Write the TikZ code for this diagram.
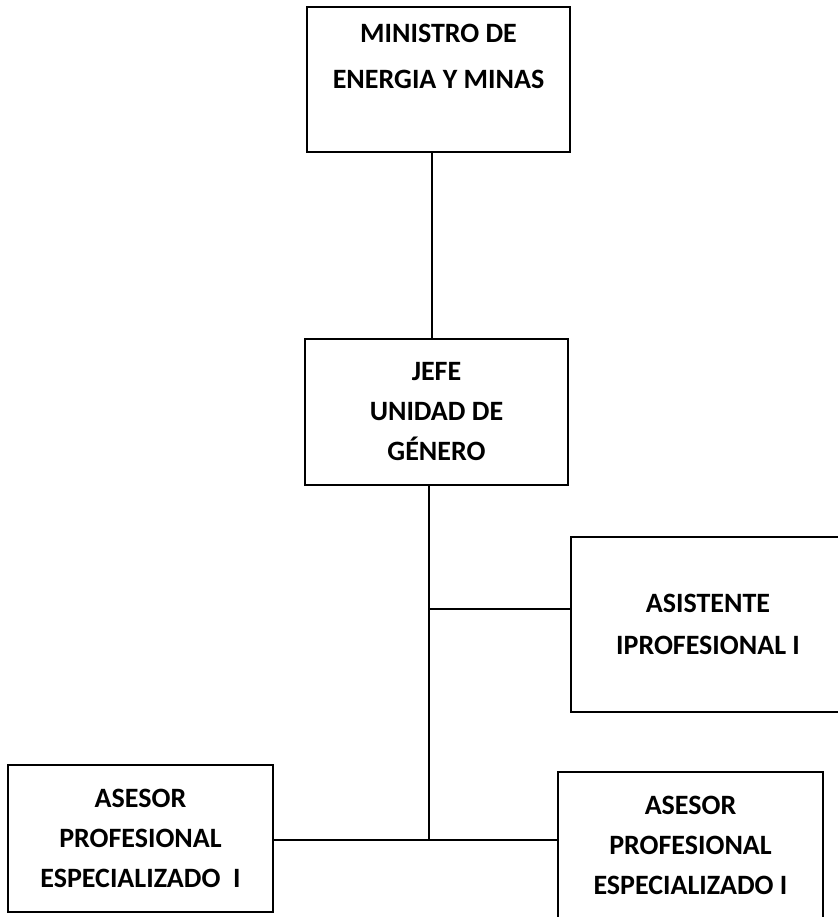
\documentclass[tikz,border=0pt]{standalone}
\usepackage{fontspec}
\setmainfont{Carlito}

\begin{document}
\begin{tikzpicture}[x=1pt,y=1pt]
\tikzset{unitbox/.style={draw=black,line width=1.4pt,inner sep=0pt,align=center,
  font=\fontsize{28}{40}\selectfont\bfseries}}
\path[use as bounding box,fill=white] (0,0) rectangle (837,917);

\node[unitbox,minimum width=263pt,minimum height=145pt] (mini) at (438.5,837.5) {MINISTRO DE\\[6pt]ENERGIA Y MINAS\\[6pt]\mbox{}};

\node[unitbox,minimum width=263pt,minimum height=146pt] (jefe) at (436.5,505) {JEFE\\UNIDAD DE\\G\'ENERO};

\node[unitbox,minimum width=274pt,minimum height=175pt] (asist) at (708,292.5) {ASISTENTE\\[2pt]IPROFESIONAL I};

\node[unitbox,minimum width=265pt,minimum height=147pt] (asesorA) at (140.5,78.5) {ASESOR\\PROFESIONAL\\ESPECIALIZADO \ I};

\node[unitbox,minimum width=265pt,minimum height=146pt] (asesorB) at (690.5,72) {ASESOR\\PROFESIONAL\\ESPECIALIZADO I};

\coordinate (link) at (432,0);
\coordinate (bus) at (429,77);
\coordinate (tap) at (429,308);

\draw[line width=1.4pt] (mini.south -| link) -- (jefe.north -| link);
\draw[line width=1.4pt] (jefe.south -| bus) -- (bus);
\draw[line width=1.4pt] (tap) -- (tap -| asist.west);
\draw[line width=1.4pt] (asesorA.east |- bus) -- (asesorB.west |- bus);
\end{tikzpicture}
\end{document}
